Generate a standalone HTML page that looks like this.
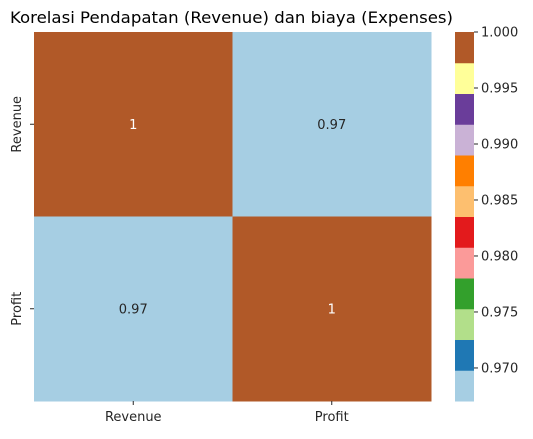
<!DOCTYPE html>
<html><head><meta charset="utf-8"><style>
body{margin:0;background:#fff;font-family:"DejaVu Sans","Liberation Sans",sans-serif}
</style></head><body>
<svg id="c" width="533" height="435" xmlns="http://www.w3.org/2000/svg" font-family="DejaVu Sans, Liberation Sans, sans-serif"></svg>
<script>
const labels = ["Revenue","Profit"];
const matrix = [[1,0.967],[0.967,1]];
const cbTicks = [1.000,0.995,0.990,0.985,0.980,0.975,0.970];
const vmin = 0.96705, vmax = 1.0;
const colors = ["#a6cee3","#1f78b4","#b2df8a","#33a02c","#fb9a99","#e31a1c","#fdbf6f","#ff7f00","#cab2d6","#6a3d9a","#ffff99","#b15928"];
const NS="http://www.w3.org/2000/svg";
const svg=document.getElementById('c');
function el(t,a,p){const e=document.createElementNS(NS,t);for(const k in a)e.setAttribute(k,a[k]);(p||svg).appendChild(e);return e;}
const X0=34,X1=431,Y0=32,Y1=401;
const cw=(X1-X0)/labels.length,ch=(Y1-Y0)/labels.length;
function col(v){let i=Math.floor((v-vmin)/(vmax-vmin)*colors.length);i=Math.max(0,Math.min(colors.length-1,i));return colors[i];}
function txt(x,y,s,a){const t=el('text',Object.assign({x:x,y:y,'font-size':13,fill:'#262626'},a||{}));t.textContent=s;return t;}
const title=txt(10,23,"Korelasi Pendapatan (Revenue) dan biaya (Expenses)",{'font-size':16,fill:'#000',textLength:443,lengthAdjust:'spacingAndGlyphs'});


matrix.forEach((row,i)=>row.forEach((v,j)=>{
  const r=el('rect',{x:X0+j*cw,y:Y0+i*ch,width:cw+0.5,height:ch+0.5,fill:col(v)});
  
  
  const dark=col(v)==="#b15928";
  const t=txt(X0+j*cw+cw/2,Y0+i*ch+ch/2+4.5,(Math.round(v*100)/100).toString(),{'text-anchor':'middle',fill:dark?'#fff':'#262626'});
  
  
}));
labels.forEach((l,i)=>{
  const cx=X0+i*cw+cw/2;
  el('line',{x1:cx,x2:cx,y1:Y1,y2:Y1+4,stroke:'#262626'});
  const t=txt(cx,Y1+20,l,{'text-anchor':'middle'});
  
  
  const cy=Y0+i*ch+ch/2;
  el('line',{x1:X0-4,x2:X0,y1:cy,y2:cy,stroke:'#262626'});
  const ty=txt(0,0,l,{'text-anchor':'middle',transform:`translate(21,${cy}) rotate(-90)`});
  
  
});
const CX0=455,CX1=474;
const cby=v=>Y1-(v-vmin)/(vmax-vmin)*(Y1-Y0);
colors.forEach((c,i)=>{
  const v0=vmin+i*(vmax-vmin)/colors.length,v1=vmin+(i+1)*(vmax-vmin)/colors.length;
  const r=el('rect',{x:CX0,y:cby(v1),width:CX1-CX0,height:cby(v0)-cby(v1)+0.5,fill:c});
  
  
});
cbTicks.forEach(v=>{
  const y=cby(v);
  el('line',{x1:CX1,x2:CX1+4,y1:y,y2:y,stroke:'#262626'});
  const t=txt(CX1+7,y+4.5,v.toFixed(3));
  
  
});
</script>
</body></html>
